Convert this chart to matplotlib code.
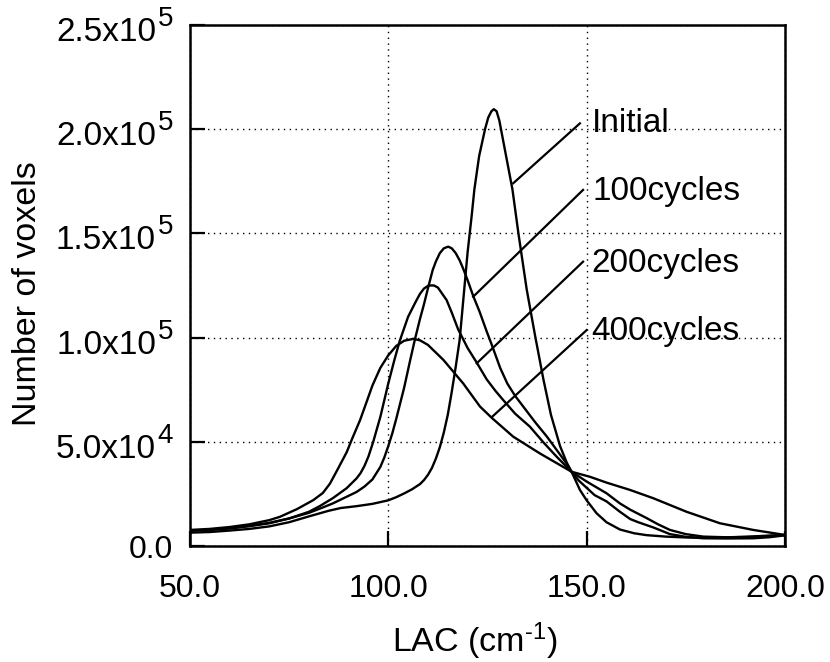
import matplotlib
matplotlib.use('Agg')
import matplotlib.pyplot as plt
import matplotlib.transforms as mtransforms

plt.rcParams['font.family'] = ['Liberation Sans', 'DejaVu Sans']
plt.rcParams['mathtext.fontset'] = 'custom'
plt.rcParams['mathtext.rm'] = 'Liberation Sans'
plt.rcParams['mathtext.it'] = 'Liberation Sans:italic'
plt.rcParams['mathtext.bf'] = 'Liberation Sans:bold'

# ---------------- data (LAC in cm^-1, counts in thousands of voxels) ----------------
lac_initial = [50, 55, 60, 65, 70, 75, 80, 85, 88, 92, 96, 100, 102, 104, 106, 108, 109, 110, 111, 112,
               113, 114, 115, 116, 117, 118, 119, 120, 121, 121.7, 122.9, 124.4, 125.2, 126, 126.6,
               127.3, 128, 128.6, 129.7, 131.3, 132.8, 134.9, 137, 139.1, 141, 143.3, 145, 146.2,
               148.3, 150, 152.5, 155, 158.4, 162, 165.1, 170, 175, 180, 185, 190, 195, 200]
cnt_initial = [6.5, 6.8, 7.5, 8.3, 9.5, 11.5, 14.3, 17.0, 18.3, 19.2, 20.3, 22, 23.5, 25.3, 27.3, 29.8, 31.7, 34.2, 37.5, 42,
               47.5, 54.5, 63, 74, 86, 99, 120, 141, 158, 171, 187, 200, 205.5, 208.5, 209.5,
               208.5, 204, 198, 187, 171, 150, 123, 101, 80, 63, 48, 40, 35.7,
               27, 22, 15.8, 11.5, 8, 6.2, 5.3, 4.6, 4.2, 4.1, 4.2, 4.5, 5, 5.4]

lac_100 = [50, 55, 60, 65, 70, 75, 80, 83, 86, 89.5, 92, 94, 96, 98, 99, 100, 101, 102, 104, 105.5,
           106.7, 108, 109, 110.1, 111.2, 112, 113, 114, 115.1, 116, 117, 118, 119, 120, 121.4, 123,
           124.8, 126, 128.2, 130, 132, 134, 137, 140, 142.5, 145, 146.2, 148, 150, 152, 155, 158.4,
           161, 163, 166.8, 171, 175, 179.4, 185, 192, 196, 200]
cnt_100 = [7.5, 7.9, 8.6, 9.8, 11.2, 13.3, 16, 18.2, 20.5, 23.7, 26, 28.6, 32, 38, 42.5, 48, 54, 61, 76, 89,
           99, 109, 116, 124.4, 132.4, 136.5, 140.5, 142.8, 143.6, 142.8, 140.5, 137, 132.5, 127.5, 120, 112.5,
           103, 97, 85.5, 78, 72, 67, 59.5, 52.5, 46, 39.5, 35.7, 31.5, 28, 24.5, 21.5, 16.5,
           13, 11.5, 9, 5.8, 4.5, 3.8, 3.7, 3.8, 4.3, 5.2]

lac_200 = [50, 55, 60, 65, 70, 75, 80, 82.8, 86, 89.5, 92, 93, 94, 95, 96.2, 98, 100, 101.5, 102.9, 105,
           107, 108, 109, 110, 110.5, 111.5, 112.5, 114.7, 116, 117.6, 120, 122.3, 124.8, 127, 129, 132,
           135.7, 139, 142.4, 146.2, 150, 155, 158.4, 161, 165.1, 168, 171, 175, 179.4, 185, 192,
           196, 200]
cnt_200 = [7.5, 7.8, 8.5, 9.6, 11, 13.3, 16.5, 19.3, 23, 27.8, 32.5, 35, 38.5, 43, 50, 62, 78, 89, 98.5, 110,
           117.5, 121, 123.5, 124.8, 125, 125, 124, 118, 112, 104, 95, 88, 80, 74.5, 70, 63.5,
           57.3, 50, 43, 35.7, 31, 25.4, 20.5, 17.5, 13.5, 10.5, 7.8, 5.8, 4.6, 4.3, 4.5,
           4.9, 5.4]

lac_400 = [50, 55, 60, 65, 70, 72.7, 77, 81.1, 83.5, 85.3, 87, 89.5, 91, 92.9, 94.6, 96, 98, 100, 102,
           104, 106.3, 108, 110, 113.9, 118.9, 123.1, 126.1, 131.5, 138.2, 146.2, 150.8, 155, 160.9,
           166.8, 175.2, 183.6, 192, 200]
cnt_400 = [7.8, 8.3, 9.2, 10.5, 12.5, 14.1, 17.8, 22.1, 25.5, 30, 36, 45, 52, 60.5, 69.5, 77, 85.5, 91.5, 96,
           98.5, 99.4, 98.7, 96.5, 89.3, 78, 67, 61.5, 52.5, 44.5, 35.7, 33.3, 30.5, 27,
           23, 16.5, 11, 7.8, 5.4]

series_labels = ['Initial', '100cycles', '200cycles', '400cycles']
# label text anchor (LAC, thousands) and leader line end on curve
label_text_pos = [(151.2, 198.7), (151.5, 166.0), (151.2, 131.6), (151.2, 98.9)]
leader_start = [(148.3, 202.7), (149.1, 170.8), (149.1, 136.4), (150.0, 103.6)]
leader_end = [(131.5, 174.0), (121.4, 119.6), (122.3, 87.7), (126.1, 61.9)]

x_ticks = [50, 100, 150, 200]
x_tick_labels = ['50.0', '100.0', '150.0', '200.0']
y_ticks = [0, 50000, 100000, 150000, 200000, 250000]
y_tick_mantissa = ['0.0', '5.0x10', '1.0x10', '1.5x10', '2.0x10', '2.5x10']
y_tick_exponent = ['', '4', '5', '5', '5', '5']

# ---------------- figure ----------------
W, H = 830, 662
fig = plt.figure(figsize=(8.3, 6.62), dpi=100)
ax = fig.add_axes([0.2288, 0.1749, 0.7170, 0.7878])

for xs, ys in [(lac_initial, cnt_initial), (lac_100, cnt_100), (lac_200, cnt_200), (lac_400, cnt_400)]:
    ax.plot(xs, [v * 1000 for v in ys], color='black', lw=1.7, zorder=3,
            solid_joinstyle='round', solid_capstyle='round')

for lab, tp, ls, le in zip(series_labels, label_text_pos, leader_start, leader_end):
    ax.plot([ls[0], le[0]], [ls[1] * 1000, le[1] * 1000], color='black', lw=1.6, zorder=3)
    ax.text(tp[0], tp[1] * 1000, lab, fontsize=24, ha='left', va='baseline', zorder=4)

ax.set_xlim(50, 200)
ax.set_ylim(0, 250000)
ax.set_xticks(x_ticks)
ax.set_xticklabels(x_tick_labels)
ax.set_yticks(y_ticks)
# the plain "0.0" label is a normal tick label; the power-of-ten labels are composed below
ax.set_yticklabels([m if not e else '' for m, e in zip(y_tick_mantissa, y_tick_exponent)])
ax.tick_params(axis='both', direction='in', length=11, width=1.6, labelsize=23,
               top=False, right=False, color='black')
ax.tick_params(axis='x', pad=20)
ax.tick_params(axis='y', pad=12)

blend = mtransforms.blended_transform_factory(ax.transAxes, ax.transData)
for val, mant, expo in zip(y_ticks, y_tick_mantissa, y_tick_exponent):
    if not expo:
        continue
    t_base = blend + mtransforms.ScaledTranslation(-34 / 100, -16 / 100, fig.dpi_scale_trans)
    t_sup = blend + mtransforms.ScaledTranslation(-17 / 100, -1 / 100, fig.dpi_scale_trans)
    ax.text(0, val, mant, transform=t_base, fontsize=24, ha='right', va='baseline', clip_on=False)
    ax.text(0, val, expo, transform=t_sup, fontsize=20, ha='right', va='baseline', clip_on=False)

ax.grid(True, color='black', lw=1.0, linestyle=(0, (1, 3.2)), zorder=1)
for sp in ax.spines.values():
    sp.set_linewidth(1.8)
    sp.set_color('black')

fig.text(27.5 / W, 1 - 293.5 / H, 'Number of voxels', fontsize=24.5, rotation=90,
         ha='center', va='center')
fig.text(475 / W, 1 - 652 / H, 'LAC (cm$^{\\mathregular{\u2010}\\mathregular{1}}$)', fontsize=24.5,
         ha='center', va='baseline')

fig.savefig('out.png', dpi=100, facecolor='white')
